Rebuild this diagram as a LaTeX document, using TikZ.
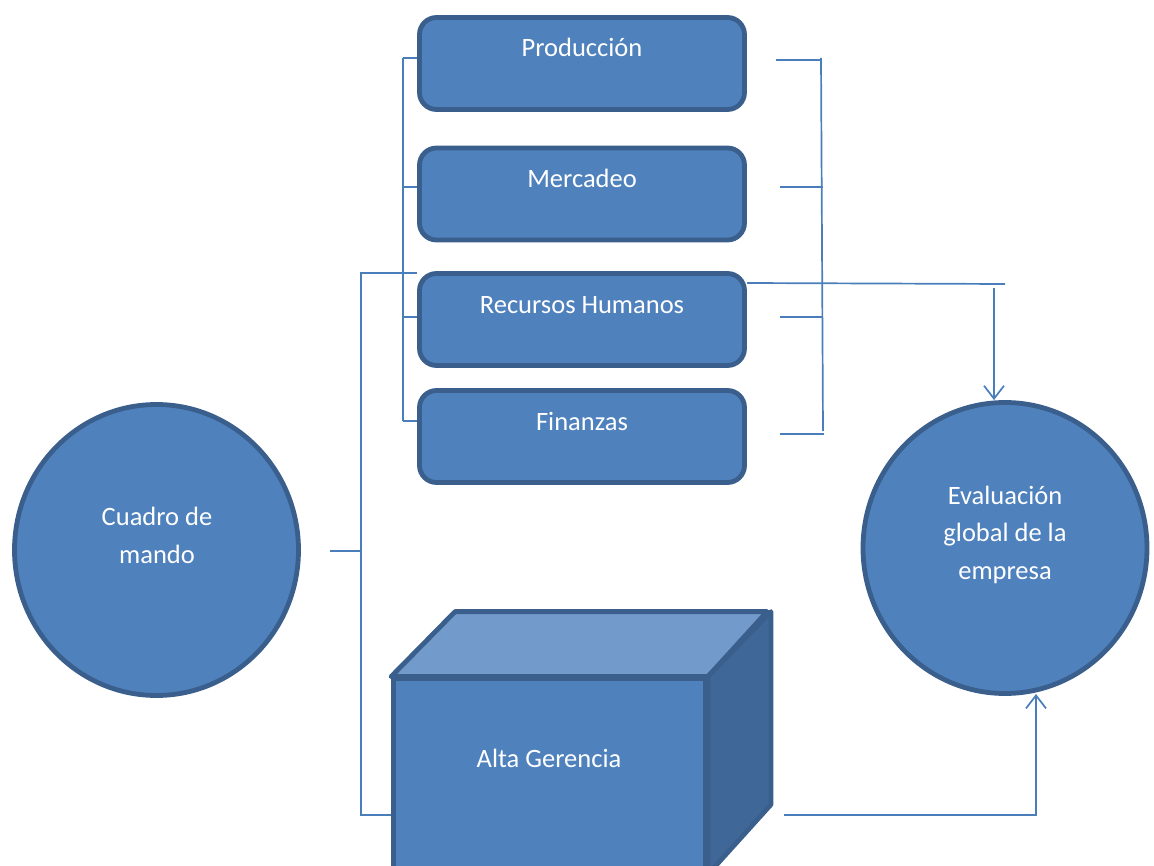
\documentclass[tikz,border=0pt]{standalone}
\usepackage{fontspec}
\setmainfont{Carlito}
\usetikzlibrary{arrows.meta,shapes.geometric}
\definecolor{shapefill}{HTML}{4F81BD}
\definecolor{shapeedge}{HTML}{3A5F8C}
\definecolor{topface}{HTML}{729ACB}
\definecolor{sideface}{HTML}{3F6898}
\definecolor{wire}{HTML}{4A7EBB}
\tikzset{
  area/.style={fill=shapefill,draw=shapeedge,line width=4.8pt,line join=round},
  deptbox/.style={area,rectangle,rounded corners=17pt,minimum width=325pt,minimum height=92pt,inner sep=0pt},
  oval/.style={area,ellipse,minimum width=284pt,minimum height=291pt,inner sep=0pt},
  frontface/.style={area,rectangle,minimum width=312pt,minimum height=193pt,inner sep=0pt},
  txt/.style={text=white,font=\fontsize{26.5}{37.5}\selectfont,align=center,inner sep=0pt},
  wireline/.style={draw=wire,line width=1.7pt},
  arrowline/.style={wireline,-{Straight Barb[length=13pt,width=20pt,line width=1.7pt]}},
}
\begin{document}
\begin{tikzpicture}[x=1pt,y=-1pt]
\useasboundingbox (0,0) rectangle (1154,866);
\clip (0,0) rectangle (1154,866);

% department boxes
\node[deptbox] (prod) at (582,63.5) {};
\node[deptbox] (merc) at (582,194) {};
\node[deptbox] (rrhh) at (582,319.5) {};
\node[deptbox] (fin)  at (582,436.5) {};
\node[txt,anchor=base] (tprod) at (582,57) {Producción};
\node[txt,anchor=base] (tmerc) at (582,188) {Mercadeo};
\node[txt,anchor=base] (trrhh) at (582,314) {Recursos Humanos};
\node[txt,anchor=base] (tfin)  at (582,431) {Finanzas};

% round shapes (multi-line labels are placed by their last baseline)
\node[oval] (cuadro) at (156.5,550) {};
\node[oval] (eval) at (1005,548) {};
\node[txt,anchor=base] (tcuadro) at (157,563) {Cuadro de\\mando};
\node[txt,anchor=base] (teval) at (1005,579) {Evaluación\\global de la\\empresa};

% cube: front face plus top and side faces
\node[frontface] (alta) at (549.5,775.5) {};
\draw[area,fill=topface] (alta.north west) -- ++(64,-65) -- ++(312,0) -- (alta.north east) -- cycle;
\draw[area,fill=sideface] (alta.north east) -- ++(63,-65) -- ++(0,193) -- (alta.south east) -- cycle;
\node[txt,anchor=base] (talta) at (549,767) {Alta Gerencia};

% left spine from the control panel
\coordinate (sTop) at (361,273);
\coordinate (sMid) at (361,551);
\coordinate (sBot) at (361,815);
\coordinate (cStub) at (330,551);
\draw[wireline] (rrhh.north west |- sTop) -- (sTop) -- (sBot) -- (sBot -| alta.west);
\draw[wireline] (cStub) -- (sMid);

% left bracket over the four departments
\coordinate (lTop) at (403,58);
\coordinate (lBot) at (403,421);
\draw[wireline] (lTop) -- (lBot);
\draw[wireline] (lTop) -- (lTop -| prod.west);
\draw[wireline] (403,187) -- (merc.west |- 0,187);
\draw[wireline] (403,317) -- (rrhh.west |- 0,317);
\draw[wireline] (lBot) -- (lBot -| fin.west);

% right bracket
\coordinate (rTop) at (821,58);
\coordinate (rBot) at (823,431);
\draw[wireline] (rTop) -- (rBot);
\coordinate (r1) at (776,60);
\coordinate (r2) at (780,187);
\coordinate (r3) at (780,317);
\coordinate (r4) at (780,434);
\draw[wireline] (r1) -- (822,60);
\draw[wireline] (r2) -- (823,187);
\draw[wireline] (r3) -- (823,317);
\draw[wireline] (r4) -- (824,434);

% link from human resources to the global evaluation
\coordinate (hEnd) at (1005,284);
\coordinate (aTop) at (994,288);
\draw[wireline] (747,283) -- (hEnd);
\draw[arrowline] (aTop) -- (eval.north -| aTop);

% link from top management to the global evaluation
\coordinate (bStart) at (784,815);
\coordinate (bCorner) at (1037,815);
\draw[wireline] (bStart) -- (bCorner);
\draw[arrowline] (1036,815) -- (1036,694);
\end{tikzpicture}
\end{document}
